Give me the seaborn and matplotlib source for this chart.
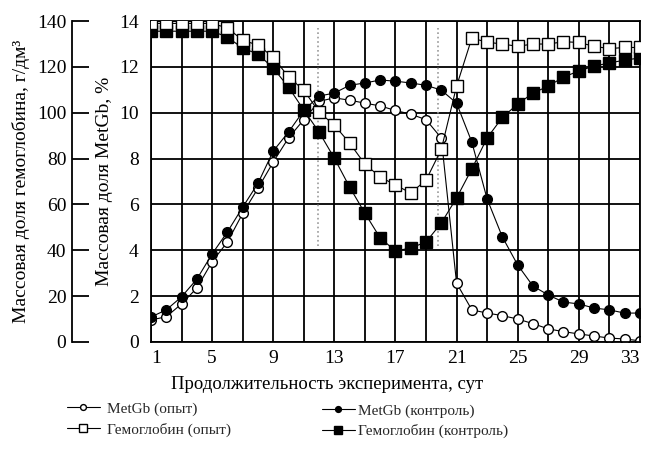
import numpy as np
import matplotlib
matplotlib.use("Agg")
import matplotlib.pyplot as plt
import seaborn as sns
from matplotlib.lines import Line2D


# ======================================================
# DATA
# ======================================================

days = list(range(1, 34))

# MetGb, %
metgb_exp = [0.96, 1.1, 1.66, 2.35, 3.5, 4.36, 5.61, 6.7, 7.85, 8.9, 9.7,
             10.5, 10.65, 10.55, 10.42, 10.3, 10.1, 9.94, 9.7, 8.9,
             2.57, 1.4, 1.26, 1.15, 1.0, 0.8, 0.57, 0.45, 0.35, 0.26,
             0.17, 0.13, 0.05]

metgb_ctrl = [1.09, 1.4, 1.97, 2.74, 3.84, 4.8, 5.88, 6.92, 8.33, 9.16,
              10.1, 10.73, 10.86, 11.2, 11.3, 11.43, 11.38, 11.3, 11.2,
              10.99, 10.42, 8.72, 6.24, 4.58, 3.36, 2.44, 2.05, 1.74,
              1.66, 1.48, 1.4, 1.26, 1.26]

# Hemoglobin, g/dm3
hb_exp = [139, 139, 139, 139, 139, 137, 131.7, 129.5, 124.3, 115.6, 109.9,
          100.3, 94.6, 86.8, 77.6, 72, 68.5, 65, 70.6, 84, 111.6, 132.6,
          130.8, 130, 129, 130, 130, 131, 130.7, 129, 128, 128.5, 128.5]

hb_ctrl = [135.6, 135.6, 135.6, 135.6, 135.6, 133, 128.2, 125.6, 119.5,
           111.2, 101.2, 91.6, 80.2, 67.6, 56.2, 45.4, 39.7, 41, 43.6,
           51.9, 62.8, 75.5, 89, 98, 103.8, 108.6, 111.6, 115.6, 118.2,
           120.4, 121.7, 123, 123.9]

phase_days = [11.9, 19.8]
phase_span = [4.2, 13.7]

x_labels = list(range(1, 34, 4))
x_grid = list(range(3, 34, 4))
metgb_ticks = list(range(0, 15, 2))
hb_ticks = list(range(0, 141, 20))

series_names = ["MetGb (опыт)", "Гемоглобин (опыт)",
                "MetGb (контроль)", "Гемоглобин (контроль)"]


# ======================================================
# STYLE
# ======================================================

sns.set_theme(style="white")
plt.rcParams["font.family"] = ["Liberation Serif", "DejaVu Serif"]

open_circle = dict(color="black", lw=0.8, marker="o", markersize=7,
                   markerfacecolor="white", markeredgecolor="black",
                   markeredgewidth=1.0)
filled_circle = dict(open_circle, markerfacecolor="black")
open_square = dict(open_circle, marker="s", markersize=8.5)
filled_square = dict(open_square, markerfacecolor="black")


# ======================================================
# PLOT
# ======================================================

fig, ax = plt.subplots(figsize=(6.47, 4.59), dpi=100)
fig.subplots_adjust(left=0.2334, right=0.989, bottom=0.255, top=0.954)

ax.set_xlim(1, 33)
ax.set_ylim(0, 14)
ax.set_xticks(x_labels)
ax.set_xticks(x_grid, minor=True)
ax.set_yticks(metgb_ticks)
ax.grid(True, which="both", color="black", lw=1.3)
ax.tick_params(axis="both", which="both", length=0, labelsize=14,
               colors="black")
ax.tick_params(axis="y", pad=9)
ax.tick_params(axis="x", pad=6)
for s in ax.spines.values():
    s.set_color("black")
    s.set_linewidth(1.3)

xt = ax.get_xticklabels()
xt[0].set_horizontalalignment("left")
xt[-1].set_horizontalalignment("right")

ax.vlines(phase_days, phase_span[0], phase_span[1], colors="#999999",
          linestyles=":", lw=1.2, zorder=1)

ax2 = ax.twinx()
ax2.set_ylim(0, 140)
ax2.set_yticks(hb_ticks)
ax2.yaxis.set_ticks_position("left")
ax2.yaxis.set_label_position("left")
ax2.spines["left"].set_position(("axes", -0.1616))
ax2.spines["left"].set_color("black")
ax2.spines["left"].set_linewidth(1.3)
for side in ["right", "top", "bottom"]:
    ax2.spines[side].set_visible(False)
ax2.tick_params(axis="y", direction="in", length=12, width=1.3,
                labelsize=14, colors="black", pad=4)
ax2.grid(False)

sns.lineplot(x=days, y=metgb_exp, ax=ax, **open_circle)
sns.lineplot(x=days, y=metgb_ctrl, ax=ax, **filled_circle)
sns.lineplot(x=days, y=hb_ctrl, ax=ax2, **filled_square)
sns.lineplot(x=days, y=hb_exp, ax=ax2, **open_square)

ax.set_xlabel("Продолжительность эксперимента, сут", fontsize=13.5,
              color="black")
ax.xaxis.set_label_coords(0.36, -0.105)
ax.set_ylabel("Массовая доля MetGb, %", fontsize=14, color="black",
              labelpad=4)
ax2.set_ylabel("Массовая доля гемоглобина, г/дм³", fontsize=14,
               color="black", labelpad=5)

# legend
styles = [open_circle, open_square, filled_circle, filled_square]
handles = [Line2D([], [], **st) for st in styles]
leg_kw = dict(frameon=False, fontsize=11, handlelength=2.15,
              markerscale=0.6, labelspacing=0.42, borderpad=0,
              borderaxespad=0)
fig.legend(handles[:2], series_names[:2], loc="upper left",
           bbox_to_anchor=(0.1036, 0.124), handletextpad=0.45, **leg_kw)
fig.legend(handles[2:], series_names[2:], loc="upper left",
           bbox_to_anchor=(0.4977, 0.120), handletextpad=0.2, **leg_kw)

fig.savefig("out.png", dpi=100)
